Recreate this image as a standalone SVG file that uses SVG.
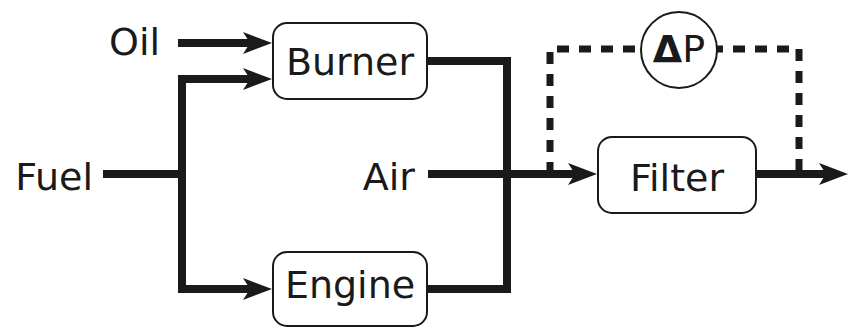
<svg xmlns="http://www.w3.org/2000/svg" width="850" height="328" viewBox="0 0 850 328">
<defs>
<style>
text{font-family:"DejaVu Sans","Verdana",sans-serif;font-size:38px;fill:#1a1a1a}
.box{fill:#fff;stroke:#1a1a1a;stroke-width:2}
.flow{fill:none;stroke:#1a1a1a;stroke-width:8}
.dash{fill:none;stroke:#1a1a1a;stroke-width:7;stroke-dasharray:12 10}
.mid{text-anchor:middle}
.end{text-anchor:end}
</style>
<marker id="arr" viewBox="0 0 29 22" markerWidth="29" markerHeight="22" markerUnits="userSpaceOnUse" refX="17" refY="11" orient="auto">
<path d="M0,0 L29,11 L0,22 L7,11 Z" fill="#1a1a1a"/>
</marker>
</defs>
<g id="connectors">
<path class="flow" d="M178,43 H260" marker-end="url(#arr)"/>
<path class="flow" d="M103,174 H182"/>
<path class="flow" d="M182,174 V79 H260" marker-end="url(#arr)"/>
<path class="flow" d="M182,174 V289 H260" marker-end="url(#arr)"/>
<path class="flow" d="M427,61 H507 V289 H427"/>
<path class="flow" d="M428,174 H585" marker-end="url(#arr)"/>
<path class="flow" d="M757,174 H836" marker-end="url(#arr)"/>
<path class="dash" d="M550,174 V49 H799 V174"/>
</g>
<g id="oil"><text class="end" x="160" y="55">Oil</text></g>
<g id="fuel"><text class="end" x="93" y="190">Fuel</text></g>
<g id="air"><text class="end" x="415" y="190">Air</text></g>
<g id="burner">
<rect class="box" x="273" y="23" width="154" height="76" rx="14"/>
<text class="mid" x="350" y="75">Burner</text>
</g>
<g id="engine">
<rect class="box" x="273" y="252" width="154" height="74" rx="14"/>
<text class="mid" x="350" y="298">Engine</text>
</g>
<g id="filter">
<rect class="box" x="598" y="137" width="158" height="76" rx="14"/>
<text class="mid" x="677" y="191">Filter</text>
</g>
<g id="deltap">
<circle class="box" cx="679" cy="50" r="38"/>
<text class="mid" x="679" y="62"><tspan font-weight="bold">Δ</tspan>P</text>
</g>
</svg>
